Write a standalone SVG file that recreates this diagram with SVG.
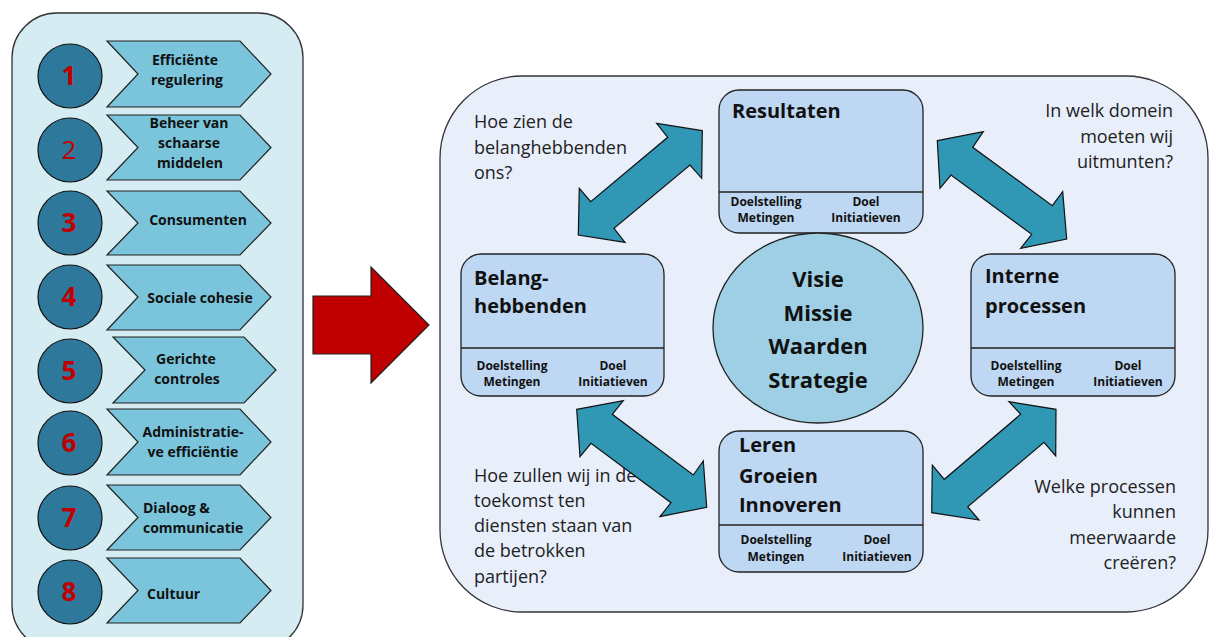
<svg xmlns="http://www.w3.org/2000/svg" width="1209" height="637" viewBox="0 0 1209 637">
<defs>
<style>
.panelL{fill:#d6ecf3;stroke:#333;stroke-width:1.3}
.panelR{fill:#e8effa;stroke:#333;stroke-width:1.3}
.circ{fill:#2e789b;stroke:#111;stroke-width:1.2}
.num{font-family:"Open Sans","Liberation Sans",sans-serif;font-size:26px;font-weight:bold;fill:#c00000;text-anchor:middle}
.chev{fill:#7ac5dc;stroke:#222;stroke-width:1.2}
.ct{font-family:"Open Sans","Liberation Sans",sans-serif;font-size:14px;font-weight:bold;fill:#111;text-anchor:middle}
.box{fill:#bed7f3;stroke:#222;stroke-width:1.3}
.div{stroke:#222;stroke-width:1.3}
.bt{font-family:"Open Sans","Liberation Sans",sans-serif;font-size:20px;font-weight:bold;fill:#111}
.st{font-family:"Open Sans","Liberation Sans",sans-serif;font-size:12px;font-weight:bold;fill:#111;text-anchor:middle}
.q{font-family:"Open Sans","Liberation Sans",sans-serif;font-size:18px;fill:#222}
.qr{text-anchor:end}
.vis{fill:#9ecfe5;stroke:#222;stroke-width:1.3}
.vt{font-family:"Open Sans","Liberation Sans",sans-serif;font-size:22px;font-weight:bold;fill:#111;text-anchor:middle}
.darr{fill:#3097b5;stroke:#111;stroke-width:1.2;stroke-linejoin:miter}
.red{fill:#c00000;stroke:#222;stroke-width:1.2}
</style>
</defs>

<g id="left-panel">
<rect class="panelL" x="12" y="13" width="291" height="637" rx="45"/>
</g>

<g id="item-1">
<circle class="circ" cx="70" cy="76" r="32"/><text class="num" x="69" y="85">1</text>
<polygon class="chev" points="107,41 240,41 271,74 240,107 107,107 138,74"/>
<text class="ct" x="185" y="65">Efficiënte</text><text class="ct" x="187" y="85">regulering</text>
</g>
<g id="item-2">
<circle class="circ" cx="70" cy="150" r="32"/><text class="num" x="69" y="159" style="font-weight:normal">2</text>
<polygon class="chev" points="107,115 240,115 271,147.5 240,180 107,180 138,147.5"/>
<text class="ct" x="189" y="128">Beheer van</text><text class="ct" x="189" y="148">schaarse</text><text class="ct" x="190" y="168">middelen</text>
</g>
<g id="item-3">
<circle class="circ" cx="70" cy="223" r="32"/><text class="num" x="69" y="232">3</text>
<polygon class="chev" points="107,191 240,191 271,223 240,255 107,255 138,223"/>
<text class="ct" x="198" y="225">Consumenten</text>
</g>
<g id="item-4">
<circle class="circ" cx="70" cy="297" r="32"/><text class="num" x="69" y="306">4</text>
<polygon class="chev" points="107,265 240,265 271,297 240,330 107,330 138,297"/>
<text class="ct" x="200" y="303">Sociale cohesie</text>
</g>
<g id="item-5">
<circle class="circ" cx="70" cy="371" r="32"/><text class="num" x="69" y="380">5</text>
<polygon class="chev" points="113,337 244,337 276,370 244,403 113,403 145,370"/>
<text class="ct" x="186" y="364">Gerichte</text><text class="ct" x="187" y="384">controles</text>
</g>
<g id="item-6">
<circle class="circ" cx="70" cy="443" r="32"/><text class="num" x="69" y="452">6</text>
<polygon class="chev" points="107,409 240,409 271,442 240,475 107,475 138,442"/>
<text class="ct" x="193" y="437">Administratie-</text><text class="ct" x="193" y="457">ve efficiëntie</text>
</g>
<g id="item-7">
<circle class="circ" cx="70" cy="518" r="32"/><text class="num" x="69" y="527">7</text>
<polygon class="chev" points="107,485 240,485 271,517.5 240,550 107,550 138,517.5"/>
<text class="ct" x="143" y="513" style="text-anchor:start">Dialoog &amp;</text><text class="ct" x="143" y="533" style="text-anchor:start">communicatie</text>
</g>
<g id="item-8">
<circle class="circ" cx="70" cy="592" r="32"/><text class="num" x="69" y="601">8</text>
<polygon class="chev" points="107,558 240,558 271,590.5 240,623 107,623 138,590.5"/>
<text class="ct" x="147" y="599" style="text-anchor:start">Cultuur</text>
</g>

<g id="big-arrow">
<polygon class="red" points="313,296 371,296 371,267 429,325 371,383 371,354 313,354"/>
</g>

<g id="right-panel">
<rect class="panelR" x="440" y="76" width="768" height="536" rx="82"/>
</g>

<g id="questions">
<text class="q" x="474" y="128">Hoe zien de</text>
<text class="q" x="474" y="154">belanghebbenden</text>
<text class="q" x="474" y="179">ons?</text>
<text class="q qr" x="1173" y="117">In welk domein</text>
<text class="q qr" x="1173" y="143">moeten wij</text>
<text class="q qr" x="1173" y="168">uitmunten?</text>
<text class="q" x="474" y="482">Hoe zullen wij in de</text>
<text class="q" x="474" y="507">toekomst ten</text>
<text class="q" x="474" y="532">diensten staan van</text>
<text class="q" x="474" y="557">de betrokken</text>
<text class="q" x="474" y="583">partijen?</text>
<text class="q qr" x="1176" y="493">Welke processen</text>
<text class="q qr" x="1176" y="518">kunnen</text>
<text class="q qr" x="1176" y="544">meerwaarde</text>
<text class="q qr" x="1176" y="569">creëren?</text>
</g>

<g id="connectors">
<polygon class="darr" points="702.3,130.7 656.7,123.3 667.7,137.3 590.7,201.7 579.3,188.3 578.3,235 625,242.3 614,228.3 690,165 701.7,178.3"/>
<polygon class="darr" points="937.3,140.7 983.3,131.7 972.7,147.3 1052.3,205.7 1062.7,191.7 1066.7,239 1020.7,248.3 1031.7,234.3 951,175 940,188.3"/>
<polygon class="darr" points="576.7,409.3 623.3,400.7 612.3,414.3 693.3,475 703.3,461 706.7,507.3 660,516.7 671,502.7 591,443.3 580,456.7"/>
<polygon class="darr" points="931.7,512.7 932.3,465 944.3,479.3 1020.7,414.3 1009,401.7 1056,409.3 1055.7,456 1044,442.3 967.7,506.7 979,520"/>
</g>

<g id="resultaten">
<rect class="box" x="719" y="90" width="204" height="143" rx="20"/>
<line class="div" x1="719" y1="192" x2="923" y2="192"/>
<text class="bt" x="732" y="118">Resultaten</text>
<text class="st" x="766" y="206">Doelstelling</text><text class="st" x="766" y="222">Metingen</text>
<text class="st" x="866" y="206">Doel</text><text class="st" x="866" y="222">Initiatieven</text>
</g>

<g id="belanghebbenden">
<rect class="box" x="461" y="254" width="203" height="142" rx="20"/>
<line class="div" x1="461" y1="348" x2="664" y2="348"/>
<text class="bt" x="474" y="285">Belang-</text>
<text class="bt" x="474" y="313">hebbenden</text>
<text class="st" x="512" y="370">Doelstelling</text><text class="st" x="512" y="386">Metingen</text>
<text class="st" x="613" y="370">Doel</text><text class="st" x="613" y="386">Initiatieven</text>
</g>

<g id="interne-processen">
<rect class="box" x="971" y="254" width="204" height="142" rx="20"/>
<line class="div" x1="971" y1="348" x2="1175" y2="348"/>
<text class="bt" x="985" y="283">Interne</text>
<text class="bt" x="985" y="313">processen</text>
<text class="st" x="1026" y="370">Doelstelling</text><text class="st" x="1026" y="386">Metingen</text>
<text class="st" x="1128" y="370">Doel</text><text class="st" x="1128" y="386">Initiatieven</text>
</g>

<g id="visie">
<ellipse class="vis" cx="818" cy="328" rx="105" ry="95"/>
<text class="vt" x="818" y="287">Visie</text>
<text class="vt" x="818" y="321">Missie</text>
<text class="vt" x="818" y="354">Waarden</text>
<text class="vt" x="818" y="388">Strategie</text>
</g>

<g id="leren">
<rect class="box" x="719" y="431" width="204" height="141" rx="20"/>
<line class="div" x1="719" y1="525" x2="923" y2="525"/>
<text class="bt" x="739" y="452">Leren</text>
<text class="bt" x="739" y="483">Groeien</text>
<text class="bt" x="739" y="512">Innoveren</text>
<text class="st" x="776" y="544">Doelstelling</text><text class="st" x="776" y="561">Metingen</text>
<text class="st" x="877" y="544">Doel</text><text class="st" x="877" y="561">Initiatieven</text>
</g>
</svg>
